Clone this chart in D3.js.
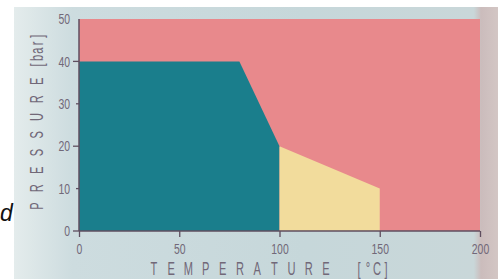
<!DOCTYPE html>
<html>
<head>
<meta charset="utf-8">
<script src="https://cdn.jsdelivr.net/npm/d3@7"></script>
<style>
  body { margin: 0; background: #fff; }
  svg text { font-family: "Liberation Sans", Arial, sans-serif; fill: #716878; }
</style>
</head>
<body>
<div id="chart"></div>
<script>
// phase regions, points as [temperature, pressure]
const liquidRegion = [[0, 0], [0, 40], [80, 40], [100, 20], [100, 0]];
const vapourRegion = [[100, 0], [100, 20], [150, 10], [150, 0]];
const outerRegion = [[0, 0], [0, 50], [200, 50], [200, 0]];

const xTicks = [0, 50, 100, 150, 200];
const xMinor = d3.range(0, 201, 10);
const yTicks = [0, 10, 20, 30, 40, 50];
const yMajor = [0, 20, 40];
const yMinor = [10, 30];

const W = 502, H = 279;
const squeeze = 0.72; // condensed look of the printed font

var svg = d3.select("#chart").append("svg")
    .attr("width", W)
    .attr("height", H);

// photo-like background
var defs = svg.append("defs");
var grad = defs.append("linearGradient").attr("id", "bg");
grad.append("stop").attr("offset", "0%").attr("stop-color", "#e4ecec");
grad.append("stop").attr("offset", "12%").attr("stop-color", "#cddcdf");
grad.append("stop").attr("offset", "60%").attr("stop-color", "#c6d7da");
grad.append("stop").attr("offset", "95%").attr("stop-color", "#c9d7d9");
grad.append("stop").attr("offset", "96.5%").attr("stop-color", "#cbbcbc");
grad.append("stop").attr("offset", "100%").attr("stop-color", "#d3c6c4");

svg.append("rect")
    .attr("x", 14).attr("y", 7)
    .attr("width", 484).attr("height", H - 7)
    .attr("fill", "url(#bg)");

var x = d3.scaleLinear().domain([0, 200]).range([79, 480]);
var y = d3.scaleLinear().domain([0, 50]).range([231, 19]);

var line = d3.line().x(d => x(d[0])).y(d => y(d[1]));

svg.append("path").attr("d", line(outerRegion) + "Z").attr("fill", "#e8898c");
svg.append("path").attr("d", line(liquidRegion) + "Z").attr("fill", "#1a7e8c");
svg.append("path").attr("d", line(vapourRegion) + "Z").attr("fill", "#f2dc9c");

var axisColor = "#5f4e5f";

// x axis
var gx = svg.append("g").attr("transform", "translate(0," + y(0) + ")");
gx.call(d3.axisBottom(x).tickValues(xMinor).tickSize(3).tickFormat(""));
gx.call(d3.axisBottom(x).tickValues(xTicks).tickSize(6).tickPadding(7).tickFormat(d3.format("d")));
gx.selectAll(".domain").attr("stroke", axisColor).attr("stroke-width", 1.5).attr("d", "M" + x(0) + ",0H" + x(200));
gx.selectAll(".tick line").attr("stroke", axisColor).attr("stroke-width", 1.3);
gx.selectAll(".tick text")
    .attr("font-size", 14.5)
    .attr("transform", "scale(" + squeeze + ",1)")
    .style("fill", "#716878");

// y axis
var gy = svg.append("g").attr("transform", "translate(" + x(0) + ",0)");
gy.call(d3.axisLeft(y).tickValues(yTicks).tickSize(0).tickFormat(d3.format("d")));
gy.selectAll(".domain").attr("stroke", axisColor).attr("stroke-width", 1.5).attr("d", "M0," + y(0) + "V" + y(50));
gy.selectAll(".tick text")
    .attr("font-size", 14.5)
    .attr("x", -9 / squeeze)
    .attr("transform", "scale(" + squeeze + ",1)")
    .style("fill", "#716878");
gy.selectAll(".majorTick").data(yMajor).enter().append("line")
    .attr("x1", -6).attr("x2", 0)
    .attr("y1", d => y(d)).attr("y2", d => y(d))
    .attr("stroke", axisColor).attr("stroke-width", 1.3);
gy.selectAll(".minorTick").data(yMinor).enter().append("line")
    .attr("x1", -3).attr("x2", 0)
    .attr("y1", d => y(d)).attr("y2", d => y(d))
    .attr("stroke", axisColor).attr("stroke-width", 1.3);

// axis titles, spaced out letter by letter like the print
function spaced(g, chars, pitch) {
    g.selectAll("text").data(chars.split("")).enter().append("text")
        .attr("x", (d, i) => i * pitch)
        .attr("text-anchor", "middle")
        .attr("font-size", 18.5)
        .attr("transform", "scale(" + 0.6 + ",1)")
        .text(d => d);
}

var tx = svg.append("g").attr("transform", "translate(154,275)");
spaced(tx.append("g"), "TEMPERATURE", 17.2 / 0.6);
spaced(tx.append("g").attr("transform", "translate(205,0)"), "[°C]", 9 / 0.6);

var ty = svg.append("g").attr("transform", "translate(43,206) rotate(-90)");
spaced(ty.append("g"), "PRESSURE", 17.8 / 0.6);
spaced(ty.append("g").attr("transform", "translate(141,0)"), "[bar]", 7.2 / 0.6);

// stray page letter at left edge
svg.append("text")
    .attr("x", 0).attr("y", 221)
    .attr("font-family", "Liberation Serif, serif")
    .attr("font-style", "italic")
    .attr("font-size", 23)
    .style("fill", "#111")
    .text("d");
</script>
</body>
</html>
